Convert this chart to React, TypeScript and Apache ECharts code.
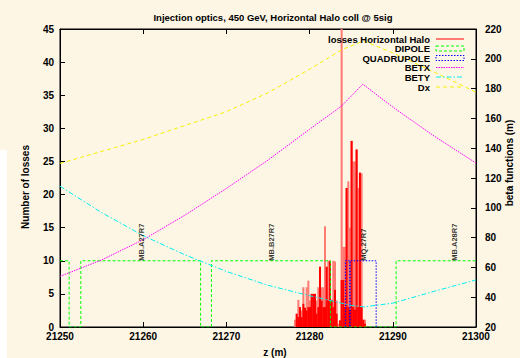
import React, { useEffect, useRef } from "react";
import * as echarts from "echarts";

const titleText = "Injection optics, 450 GeV, Horizontal Halo coll @ 5sig";
const seriesNames = ["losses Horizontal Halo", "DIPOLE", "QUADRUPOLE", "BETX", "BETY", "Dx"];

// losses histogram (left axis)
const lossZ = [
  21278.25, 21278.45, 21278.65, 21278.85, 21279.05, 21279.25, 21279.45, 21279.65, 21279.85, 21280.05,
  21280.25, 21280.45, 21280.65, 21280.85, 21281.05, 21281.25, 21281.45, 21281.65, 21281.85, 21282.05,
  21282.25, 21282.45, 21282.65, 21282.85, 21283.05, 21283.25, 21283.45, 21283.65, 21283.85, 21284.05,
  21284.25, 21284.45, 21284.65, 21284.85, 21285.05, 21285.25, 21285.45, 21285.65, 21285.85, 21286.05,
  21286.25, 21286.45, 21286.65,
];
const lossLight = [
  1.1, 2.0, 4.1, 3.0, 2.5, 6.0, 2.9, 6.0, 7.0, 4.0,
  5.0, 5.0, 5.0, 4.0, 6.0, 9.1, 6.0, 6.0, 15.2, 9.1,
  10.0, 10.0, 4.1, 10.0, 9.9, 4.0, 0.5, 1.0, 45, 12.1,
  12.1, 21.0, 22.0, 15.0, 28.1, 25.0, 25.0, 26.8, 21.0, 23.3,
  23.2, 1.1, 1.1,
];
const lossSolid = [
  0, 2.0, 1.5, 3.0, 1.5, 3.5, 2.9, 2.5, 3.0, 3.0,
  5.0, 5.0, 5.0, 2.0, 3.0, 9.1, 4.0, 3.0, 3.0, 9.1,
  4.0, 10.0, 4.1, 3.0, 5.6, 2.0, 0, 1.0, 7.1, 7.1,
  3.0, 21.0, 3.0, 2.6, 28.1, 3.0, 2.6, 26.8, 3.0, 23.3,
  3.0, 1.1, 0.5,
];

// magnet layout (left axis, box height 10)
const dipoleZ = [21250, 21251.1, 21251.1, 21252.5, 21252.5, 21266.9, 21266.9, 21268.2, 21268.2, 21282.5, 21282.5, 21290.4, 21290.4, 21300];
const dipoleV = [10, 10, 0, 0, 10, 10, 0, 0, 10, 10, 0, 0, 10, 10];
const quadZ = [21284.3, 21284.3, 21284.85, 21284.85, 21284.85, 21288.0, 21288.0];
const quadV = [0, 10, 10, 0, 10, 10, 0];

// optics functions (right axis, m)
const betxZ = [21250, 21255, 21260, 21265, 21270, 21275, 21280, 21283.86, 21286.4, 21290, 21295, 21300];
const betxV = [54, 65, 78.6, 95, 113, 132, 152.7, 168.4, 183, 167.6, 148, 130];
const betyZ = [21250, 21255, 21260, 21265, 21270, 21275, 21280, 21285, 21286.5, 21290, 21295, 21300];
const betyV = [114.5, 96.8, 81.3, 68.5, 57.3, 48, 41, 34.5, 33.5, 36, 44, 51.6];
const dxZ = [21250, 21260, 21270, 21275, 21280, 21284, 21286.5, 21290, 21295, 21300];
const dxV = [129.8, 145.9, 164.5, 177.2, 193, 206.5, 212, 204, 191, 177.6];

// element name labels
const elemZ = [21259.9, 21275.5, 21286.6, 21297.5];
const elemNames = ["MB.A27R7", "MB.B27R7", "MQ.27R7", "MB.A28R7"];

const FONT = "Liberation Sans, Arial, sans-serif";
const BG = "#fdf6e5";

const pairs = (xs: number[], ys: number[]) => xs.map((x, i) => [x, ys[i]]);

export default function App() {
  const ref = useRef<HTMLDivElement>(null);
  useEffect(() => {
    if (!ref.current) return;
    const chart = echarts.init(ref.current, null, { renderer: "svg" });
    const axisText = { color: "#000", fontFamily: FONT, fontSize: 10, fontWeight: "bold" as const };
    const legendRows = [39, 48.5, 58, 67.5, 77, 87];
    const sx1 = 436, sx2 = 464;
    const legendGraphics: any[] = [];
    seriesNames.forEach((n, i) => {
      legendGraphics.push({
        type: "text", x: 430, y: legendRows[i],
        style: { text: n, textAlign: "right", textVerticalAlign: "middle", fill: "#000", font: `bold 9.5px ${FONT}` },
        z: 100,
      });
    });
    legendGraphics.push({ type: "line", shape: { x1: sx1, y1: legendRows[0], x2: sx2, y2: legendRows[0] }, style: { stroke: "#ff0000", lineWidth: 1 }, z: 100 });
    legendGraphics.push({ type: "rect", shape: { x: sx1, y: legendRows[1] - 2.5, width: sx2 - sx1, height: 5 }, style: { stroke: "#00ff00", fill: "none", lineWidth: 1, lineDash: [3, 2] }, z: 100 });
    legendGraphics.push({ type: "rect", shape: { x: sx1, y: legendRows[2] - 2.5, width: sx2 - sx1, height: 5 }, style: { stroke: "#0000ff", fill: "none", lineWidth: 1, lineDash: [1.5, 1.5] }, z: 100 });
    legendGraphics.push({ type: "line", shape: { x1: sx1, y1: legendRows[3], x2: sx2, y2: legendRows[3] }, style: { stroke: "#ff00ff", lineWidth: 1, lineDash: [1.5, 1] }, z: 100 });
    legendGraphics.push({ type: "line", shape: { x1: sx1, y1: legendRows[4], x2: sx2, y2: legendRows[4] }, style: { stroke: "#00eeee", lineWidth: 1, lineDash: [5, 2, 1.5, 2] }, z: 100 });
    legendGraphics.push({ type: "line", shape: { x1: sx1, y1: legendRows[5], x2: sx2, y2: legendRows[5] }, style: { stroke: "#f5f000", lineWidth: 1, lineDash: [4, 3] }, z: 100 });

    const option: any = {
      animation: false,
      backgroundColor: BG,
      title: {
        text: titleText, left: 268, top: 7, textAlign: "center",
        textStyle: { color: "#000", fontFamily: FONT, fontSize: 9.5, fontWeight: "bold" },
      },
      grid: {
        left: 60, right: 44, top: 29, bottom: 31, show: true, borderColor: "#000", borderWidth: 1,
        backgroundColor: "transparent", containLabel: false, outerBoundsMode: "none",
      },
      graphic: [
        { type: "rect", shape: { x: 0, y: 150, width: 7, height: 208 }, style: { fill: "#ffffff" }, z: -10, silent: true },
        ...legendGraphics,
      ],
      xAxis: [
        {
          type: "value", min: 21250, max: 21300, interval: 10, position: "bottom",
          name: "z (m)", nameLocation: "middle", nameGap: 20, nameMoveOverlap: false,
          nameTextStyle: { ...axisText, padding: [0, 0, 0, 14] },
          axisLine: { show: true, lineStyle: { color: "#000", width: 1 } },
          axisTick: { show: true, inside: true, length: 5, lineStyle: { color: "#000" } },
          axisLabel: { ...axisText, margin: 5, lineHeight: 9, formatter: (v: number) => String(v) },
          splitLine: { show: false },
        },
        {
          type: "value", min: 21250, max: 21300, interval: 10, position: "top",
          axisLine: { show: true, lineStyle: { color: "#000", width: 1 } },
          axisTick: { show: true, inside: true, length: 5, lineStyle: { color: "#000" } },
          axisLabel: { show: false }, splitLine: { show: false },
        },
      ],
      yAxis: [
        {
          type: "value", min: 0, max: 45, interval: 5, position: "left",
          name: "Number of losses", nameLocation: "middle", nameGap: 30, nameRotate: 90, nameMoveOverlap: false,
          nameTextStyle: { ...axisText, padding: [0, 18, 0, 0] },
          axisLine: { show: true, lineStyle: { color: "#000", width: 1 } },
          axisTick: { show: true, inside: true, length: 5, lineStyle: { color: "#000" } },
          axisLabel: { ...axisText, margin: 6, lineHeight: 8 },
          splitLine: { show: false },
        },
        {
          type: "value", min: 20, max: 220, interval: 20, position: "right",
          name: "beta functions (m)", nameLocation: "middle", nameGap: 28, nameRotate: 90, nameMoveOverlap: false,
          nameTextStyle: { ...axisText, padding: [0, 0, 0, 30] },
          axisLine: { show: true, lineStyle: { color: "#000", width: 1 } },
          axisTick: { show: true, inside: true, length: 5, lineStyle: { color: "#000" } },
          axisLabel: { ...axisText, margin: 9, lineHeight: 8 },
          splitLine: { show: false },
        },
      ],
      series: [
        {
          name: seriesNames[0], type: "bar", xAxisIndex: 0, yAxisIndex: 0,
          data: pairs(lossZ, lossLight), barWidth: 2, barGap: "-100%",
          itemStyle: { color: "#ff7a72" }, silent: true, z: 2,
        },
        {
          name: seriesNames[0] + " core", type: "bar", xAxisIndex: 0, yAxisIndex: 0,
          data: pairs(lossZ, lossSolid), barWidth: 2, barGap: "-100%",
          itemStyle: { color: "#ff0000" }, silent: true, z: 3,
        },
        {
          name: seriesNames[1], type: "line", xAxisIndex: 0, yAxisIndex: 0, data: pairs(dipoleZ, dipoleV),
          showSymbol: false, symbol: "none", clip: true, z: 4,
          lineStyle: { color: "#00ff00", width: 1, type: [3, 2] },
        },
        {
          name: seriesNames[2], type: "line", xAxisIndex: 0, yAxisIndex: 0, data: pairs(quadZ, quadV),
          showSymbol: false, symbol: "none", clip: true, z: 4,
          lineStyle: { color: "#0000ff", width: 1, type: [1.5, 1.5] },
        },
        {
          name: seriesNames[3], type: "line", xAxisIndex: 0, yAxisIndex: 1, data: pairs(betxZ, betxV),
          showSymbol: false, symbol: "none", clip: true, z: 5,
          lineStyle: { color: "#ff00ff", width: 1, type: [1.5, 1] },
        },
        {
          name: seriesNames[4], type: "line", xAxisIndex: 0, yAxisIndex: 1, data: pairs(betyZ, betyV),
          showSymbol: false, symbol: "none", clip: true, z: 5,
          lineStyle: { color: "#00eeee", width: 1, type: [5, 2, 1.5, 2] },
        },
        {
          name: seriesNames[5], type: "line", xAxisIndex: 0, yAxisIndex: 1, data: pairs(dxZ, dxV),
          showSymbol: false, symbol: "none", clip: true, z: 5,
          lineStyle: { color: "#f5f000", width: 1, type: [4, 3] },
        },
        {
          name: "elements", type: "scatter", xAxisIndex: 0, yAxisIndex: 0,
          data: elemZ.map((z) => [z, 10]), symbolSize: 1, itemStyle: { color: "transparent" }, silent: true, z: 6,
          label: {
            show: true, formatter: (p: any) => elemNames[p.dataIndex], rotate: 90, position: "inside",
            align: "left", verticalAlign: "middle", offset: [0, -1],
            color: "#000", fontFamily: FONT, fontSize: 7.5, fontWeight: "bold",
          },
        },
      ],
    };
    chart.setOption(option);
    return () => chart.dispose();
  }, []);
  return <div ref={ref} style={{ position: "absolute", left: 0, top: 0, width: 520, height: 358, background: BG }} />;
}
